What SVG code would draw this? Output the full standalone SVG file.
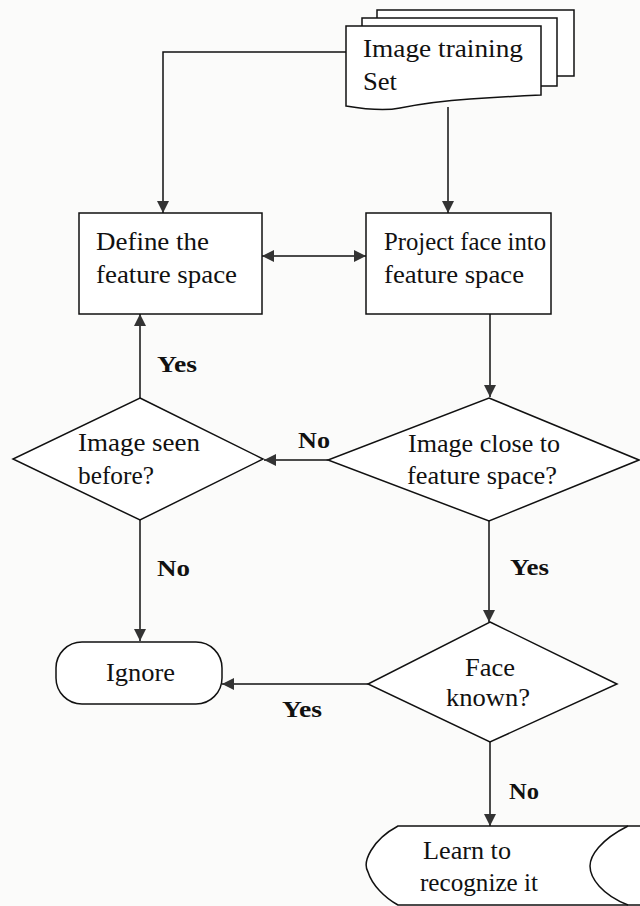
<svg xmlns="http://www.w3.org/2000/svg" width="640" height="906" viewBox="0 0 640 906">
  <defs>
    <style>
      .shape { fill: #fff; stroke: #111; stroke-width: 1.5; }
      .line { fill: none; stroke: #111; stroke-width: 1.5; }
      .txt { font-family: "Liberation Serif", "Times New Roman", serif; font-size: 25px; fill: #111; }
      .lbl { font-family: "Liberation Serif", "Times New Roman", serif; font-size: 23px; font-weight: bold; fill: #111; }
    </style>
    <marker id="arrow" viewBox="0 0 12 12" refX="12" refY="6" markerWidth="12" markerHeight="12" markerUnits="userSpaceOnUse" orient="auto-start-reverse">
      <path d="M0,0 L12,6 L0,12 Z" fill="#333"/>
    </marker>
  </defs>
  <rect width="640" height="906" fill="#fbfbfa"/>

  <!-- connectors -->
  <g id="connectors">
    <path class="line" d="M346,52 H163 V213" marker-end="url(#arrow)"/>
    <path class="line" d="M448,107 V213" marker-end="url(#arrow)"/>
    <path class="line" d="M262,256 H366" marker-start="url(#arrow)" marker-end="url(#arrow)"/>
    <path class="line" d="M490,314 V397" marker-end="url(#arrow)"/>
    <path class="line" d="M328,460 H264" marker-end="url(#arrow)"/>
    <path class="line" d="M140,398 V314" marker-end="url(#arrow)"/>
    <path class="line" d="M140,520 V641" marker-end="url(#arrow)"/>
    <path class="line" d="M489,521 V622" marker-end="url(#arrow)"/>
    <path class="line" d="M368,684 H222" marker-end="url(#arrow)"/>
    <path class="line" d="M490,742 V826" marker-end="url(#arrow)"/>
    <text class="lbl" x="157" y="372" textLength="40" lengthAdjust="spacingAndGlyphs">Yes</text>
    <text class="lbl" x="298" y="448" textLength="32" lengthAdjust="spacingAndGlyphs">No</text>
    <text class="lbl" x="157" y="576" textLength="33" lengthAdjust="spacingAndGlyphs">No</text>
    <text class="lbl" x="510" y="575" textLength="39" lengthAdjust="spacingAndGlyphs">Yes</text>
    <text class="lbl" x="282" y="717" textLength="40" lengthAdjust="spacingAndGlyphs">Yes</text>
    <text class="lbl" x="509" y="799" textLength="30" lengthAdjust="spacingAndGlyphs">No</text>
  </g>

  <!-- stacked document -->
  <g id="training-set">
    <path class="shape" d="M377,18 V10 H574 V76 H557"/>
    <path class="shape" d="M362,26 V18 H557 V86 H541"/>
    <path class="shape" d="M346,26 H541 V95 C520,96 500,97 470,99 C440,101 420,104 400,108 C385,111 370,110 346,106 Z"/>
    <text class="txt" x="363" y="57" textLength="160" lengthAdjust="spacingAndGlyphs">Image training</text>
    <text class="txt" x="363" y="90" textLength="34" lengthAdjust="spacingAndGlyphs">Set</text>
  </g>

  <g id="define">
    <rect class="shape" x="79" y="213" width="183" height="101"/>
    <text class="txt" x="96" y="250" textLength="113" lengthAdjust="spacingAndGlyphs">Define the</text>
    <text class="txt" x="96" y="283" textLength="141" lengthAdjust="spacingAndGlyphs">feature space</text>
  </g>

  <g id="project">
    <rect class="shape" x="366" y="213" width="185" height="101"/>
    <text class="txt" x="384" y="250" textLength="162" lengthAdjust="spacingAndGlyphs">Project face into</text>
    <text class="txt" x="384" y="283" textLength="140" lengthAdjust="spacingAndGlyphs">feature space</text>
  </g>

  <g id="seen-before">
    <polygon class="shape" points="140,398 263,459 140,520 13,459"/>
    <text class="txt" x="78" y="451" textLength="122" lengthAdjust="spacingAndGlyphs">Image seen</text>
    <text class="txt" x="78" y="484" textLength="76" lengthAdjust="spacingAndGlyphs">before?</text>
  </g>

  <g id="close-to-space">
    <polygon class="shape" points="489,398 639,460 489,521 328,460"/>
    <text class="txt" x="408" y="452" textLength="152" lengthAdjust="spacingAndGlyphs">Image close to</text>
    <text class="txt" x="407" y="484" textLength="150" lengthAdjust="spacingAndGlyphs">feature space?</text>
  </g>

  <g id="ignore">
    <rect class="shape" x="56" y="642" width="166" height="62" rx="26" ry="26"/>
    <text class="txt" x="106" y="681" textLength="69" lengthAdjust="spacingAndGlyphs">Ignore</text>
  </g>

  <g id="face-known">
    <polygon class="shape" points="490,622 617,684 490,742 368,684"/>
    <text class="txt" x="465" y="676" textLength="50" lengthAdjust="spacingAndGlyphs">Face</text>
    <text class="txt" x="446" y="706" textLength="84" lengthAdjust="spacingAndGlyphs">known?</text>
  </g>

  <g id="learn">
    <path class="shape" d="M645,826 H398 C372,840 362,862 368,872 C372,885 385,898 398,905 H645 Z"/>
    <path class="line" d="M628,826 C600,840 590,856 590,866 C590,878 602,895 628,905"/>
    <text class="txt" x="423" y="859" textLength="88" lengthAdjust="spacingAndGlyphs">Learn to</text>
    <text class="txt" x="420" y="891" textLength="118" lengthAdjust="spacingAndGlyphs">recognize it</text>
  </g>
</svg>
